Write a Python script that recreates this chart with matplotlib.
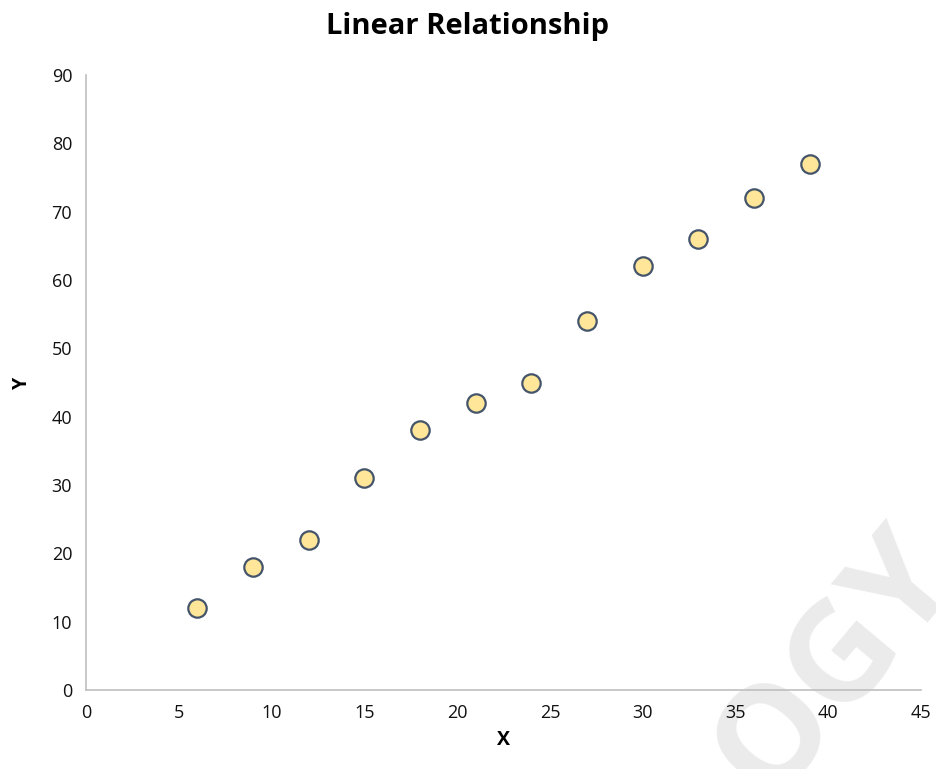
import matplotlib
matplotlib.use('Agg')
import matplotlib.pyplot as plt

x_vals = [6, 9, 12, 15, 18, 21, 24, 27, 30, 33, 36, 39]
y_vals = [12, 18, 22, 31, 38, 42, 45, 54, 62, 66, 72, 77]
x_ticks = [0, 5, 10, 15, 20, 25, 30, 35, 40, 45]
y_ticks = [0, 10, 20, 30, 40, 50, 60, 70, 80, 90]

plt.rcParams['font.family'] = ['Open Sans', 'DejaVu Sans']

fig = plt.figure(figsize=(9.36, 7.69), dpi=100)
ax = fig.add_axes([0.0919, 0.1027, 0.8921, 0.7998])

# faint watermark behind everything
fig.text(0.895, 0.135, 'OGY', fontsize=100, fontweight='bold', color='#ebebeb',
         rotation=50, ha='center', va='center', zorder=-5)
ax.patch.set_alpha(0)

ax.scatter(x_vals, y_vals, s=175, facecolor='#FFE699', edgecolor='#44546A',
           linewidth=1.6, zorder=3)

ax.set_xlim(0, 45)
ax.set_ylim(0, 90)
ax.set_xticks(x_ticks)
ax.set_yticks(y_ticks)
ax.tick_params(length=0, labelsize=13, colors='#111111', pad=10)
for s in ['top', 'right']:
    ax.spines[s].set_visible(False)
for s in ['left', 'bottom']:
    ax.spines[s].set_color('#bfbfbf')
    ax.spines[s].set_linewidth(1.2)

ax.set_xlabel('X', fontsize=14, fontweight='bold', labelpad=6)
ax.set_ylabel('Y', fontsize=14, fontweight='bold', labelpad=14)
fig.suptitle('Linear Relationship', fontsize=21, fontweight='bold', y=0.985)

fig.savefig('out.png', dpi=100)
